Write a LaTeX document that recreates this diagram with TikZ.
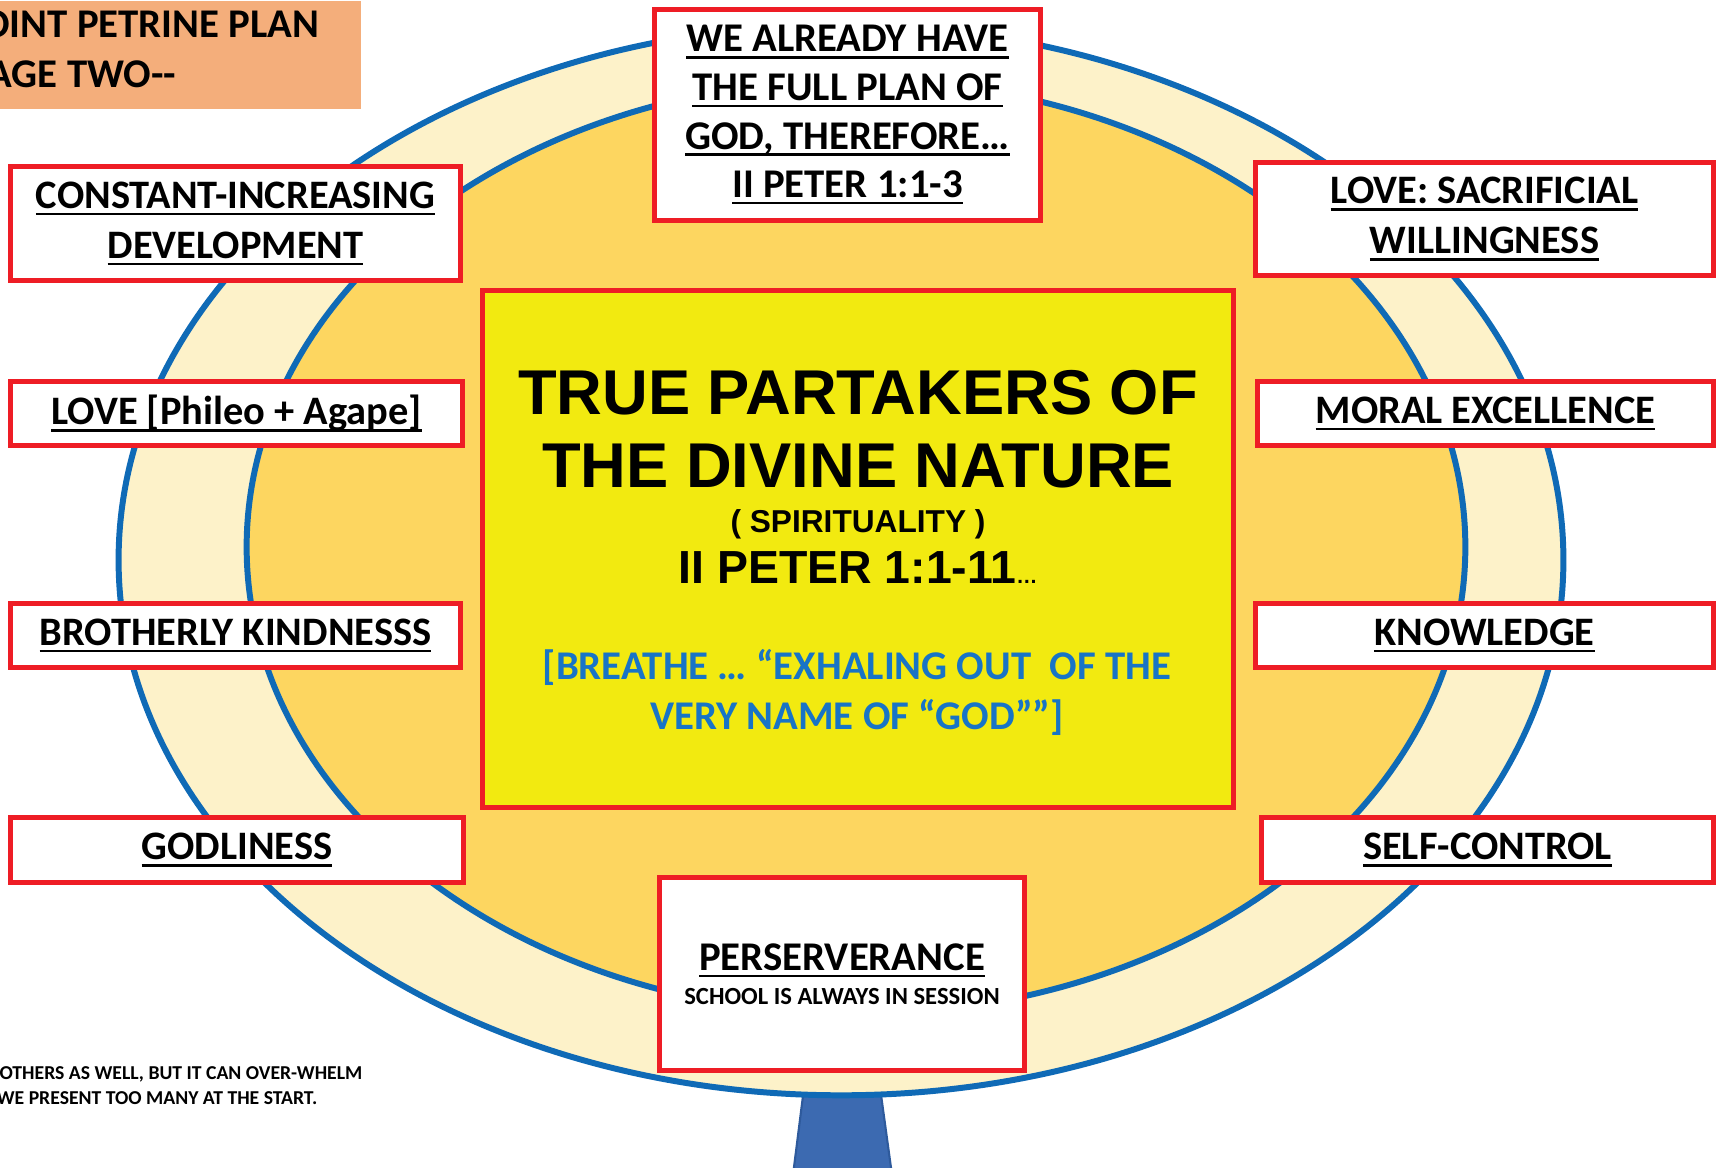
\documentclass[tikz,border=0pt]{standalone}
\usepackage{fontspec}
\setmainfont{Carlito}
\newfontfamily\roundfont{Liberation Sans}
\definecolor{boxred}{HTML}{EE1D25}
\definecolor{ringblue}{HTML}{0F6AB6}
\definecolor{cream}{HTML}{FDF2C9}
\definecolor{gold}{HTML}{FDD660}
\definecolor{lemon}{HTML}{F2EA10}
\definecolor{peach}{HTML}{F4AE7B}
\definecolor{textblue}{HTML}{1874C6}
\definecolor{stemblue}{HTML}{3C6AB1}
\definecolor{stemdark}{HTML}{2E5A9C}
\newcommand{\ulin}[1]{\setbox0=\hbox{#1}\rlap{\vrule height -0.11em depth 0.17em width \wd0}\box0}

\begin{document}
\begin{tikzpicture}[x=0.01cm,y=-0.01cm,
    lbl/.style={draw=boxred,line width=1.4pt,fill=white,inner sep=0pt,align=center,
      font=\fontsize{11.5}{14.2}\selectfont\bfseries},
    ring/.style={draw=ringblue,line width=1.7pt},
    big/.style={anchor=base,font=\roundfont\bfseries\fontsize{18}{20}\selectfont},
    edge/.style={anchor=base east,inner sep=0pt}]
  \useasboundingbox (0,0) rectangle (1720,1168);
  \clip (0,0) rectangle (1720,1168);
  % stem and rings
  \coordinate (s1) at (805,1080);
  \coordinate (s2) at (879,1080);
  \coordinate (s3) at (892,1175);
  \coordinate (s4) at (793,1175);
  \filldraw[fill=stemblue,draw=stemdark,line width=.6pt] (s1)--(s2)--(s3)--(s4)--cycle;
  \draw[ring,fill=cream] (841,560) ellipse [x radius=7.22cm,y radius=5.35cm];
  \draw[ring,fill=gold] (856,547) ellipse [x radius=6.09cm,y radius=4.67cm];
  % centre
  \node[draw=boxred,line width=1.4pt,fill=lemon,minimum width=7.51cm,minimum height=5.17cm] (core) at (858,549) {};
  \node[big] (t1) at (858,415) {TRUE PARTAKERS OF};
  \node[big] (t2) at (858,488) {THE DIVINE NATURE};
  \node[anchor=base,font=\roundfont\bfseries\fontsize{9}{10}\selectfont] (t3) at (858,533) {( SPIRITUALITY )};
  \node[anchor=base,font=\roundfont\bfseries\fontsize{13.2}{14}\selectfont] (t4) at (858,584)
    {II PETER 1:1-11{\fontsize{6}{7}\selectfont …}};
  \node[anchor=base,text=textblue,font=\bfseries\fontsize{11.6}{13}\selectfont] (b1) at (857,680)
    {[BREATHE … “EXHALING OUT~ OF THE};
  \node[anchor=base,text=textblue,font=\bfseries\fontsize{11.6}{13}\selectfont] (b2) at (857,730)
    {VERY NAME OF “GOD””]};
  % left boxes
  \node[lbl,minimum width=4.5cm,minimum height=1.14cm] (grow) at (235.5,223.5)
    {\ulin{CONSTANT-INCREASING}\\\ulin{DEVELOPMENT}};
  \node[lbl,minimum width=4.52cm,minimum height=.64cm] (love) at (236.5,413.5)
    {\ulin{LOVE [Phileo + Agape]}};
  \node[lbl,minimum width=4.5cm,minimum height=.64cm] (kind) at (235.5,635.5)
    {\ulin{BROTHERLY KINDNESSS}};
  \node[lbl,minimum width=4.53cm,minimum height=.65cm] (godly) at (237,850)
    {\ulin{GODLINESS}};
  % right boxes
  \node[lbl,minimum width=4.58cm,minimum height=1.13cm] (sacr) at (1484.5,219)
    {\ulin{LOVE: SACRIFICIAL}\\\ulin{WILLINGNESS}};
  \node[lbl,minimum width=4.56cm,minimum height=.64cm] (moral) at (1485.5,413.5)
    {\ulin{MORAL EXCELLENCE}};
  \node[lbl,minimum width=4.58cm,minimum height=.64cm] (know) at (1484.5,635.5)
    {\ulin{KNOWLEDGE}};
  \node[lbl,minimum width=4.52cm,minimum height=.65cm] (self) at (1487.5,850)
    {\ulin{SELF-CONTROL}};
  % top and bottom
  \node[lbl,minimum width=3.86cm,minimum height=2.11cm,font=\fontsize{11.6}{13.8}\selectfont\bfseries] (plan) at (847.5,115)
    {\ulin{WE ALREADY HAVE}\\\ulin{THE FULL PLAN OF}\\\ulin{GOD, THEREFORE…}\\\ulin{II PETER 1:1-3}};
  \node[lbl,minimum width=3.65cm,minimum height=1.93cm,font=\fontsize{11.6}{14.2}\selectfont\bfseries] (perse) at (842,974)
    {\ulin{PERSERVERANCE}\\[-4.5pt]{\fontsize{7}{8}\selectfont SCHOOL IS ALWAYS IN SESSION}};
  % heading and note
  \node[fill=peach,anchor=north west,minimum width=3.7cm,minimum height=1.08cm,inner sep=0pt] (head) at (-10,0) {};
  \node[edge,font=\fontsize{11.6}{14}\selectfont\bfseries] (h1) at (320,38) {POINT PETRINE PLAN};
  \node[edge,font=\fontsize{11.6}{14}\selectfont\bfseries] (h2) at (177,88) {STAGE TWO{-}{-}};
  \node[edge,font=\fontsize{5.6}{6}\selectfont\bfseries] (n1) at (363,1080) {OTHERS AS WELL, BUT IT CAN OVER-WHELM};
  \node[edge,font=\fontsize{5.6}{6}\selectfont\bfseries] (n2) at (318,1105) {WE PRESENT TOO MANY AT THE START.};
\end{tikzpicture}
\end{document}
